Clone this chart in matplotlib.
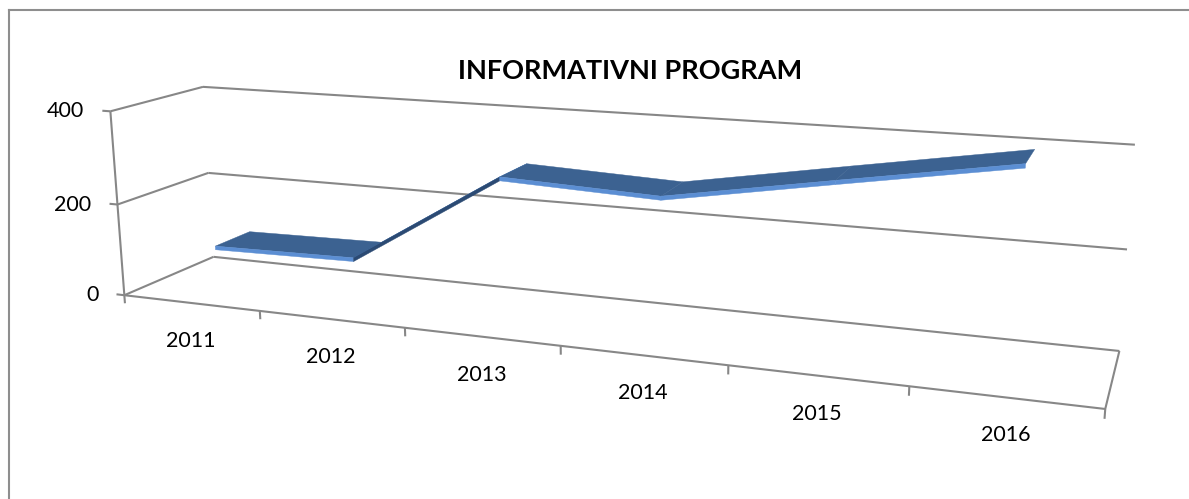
import numpy as np
import matplotlib
matplotlib.use("Agg")
import matplotlib.pyplot as plt
from mpl_toolkits.mplot3d import proj3d
from mpl_toolkits.mplot3d.art3d import Poly3DCollection

# ---- data ----
years = ['2011', '2012', '2013', '2014', '2015', '2016']
values = [95, 100, 297, 284, 340, 395]
value_ticks = [0, 200, 400]
title = 'INFORMATIVNI PROGRAM'

# ---- figure / 3D view (Excel-like 3D line chart) ----
W, H = 1189, 499
fig = plt.figure(figsize=(W / 100, H / 100), dpi=100)
ax = fig.add_axes([0.05899, -0.49721, 0.85412, 2.03516], projection='3d', computed_zorder=False)
ax.set_xlim(0, len(years)); ax.set_ylim(0, 1); ax.set_zlim(0, value_ticks[-1])
ax.view_init(elev=13.9415, azim=-68.8498, roll=0.2969)
ax.set_proj_type('persp', focal_length=0.30241)
ax.set_box_aspect((1, 0.16732, 0.19781))
ax.set_axis_off()

gc = '#878787'
lw = 1.5
n = len(years)
zmax = value_ticks[-1]


def seg(a, b):
    ln, = ax.plot([a[0], b[0]], [a[1], b[1]], [a[2], b[2]], color=gc, lw=lw, zorder=1,
                  solid_capstyle='butt')
    ln.set_clip_on(False)


# floor outline
seg((0, 0, 0), (n, 0, 0)); seg((n, 0, 0), (n, 1, 0))
seg((0, 1, 0), (n, 1, 0)); seg((0, 0, 0), (0, 1, 0))
# back wall and side wall gridlines
for z in value_ticks[1:]:
    seg((0, 1, z), (n, 1, z))
    seg((0, 0, z), (0, 1, z))
# value axis and ticks
seg((0, 0, 0), (0, 0, zmax))
for z in value_ticks:
    seg((0, 0, z), (-0.06, 0, z))
# category ticks
for i in range(n + 1):
    seg((i, 0, 0), (i, 0, -18))

# ---- ribbon ----
dark, light, shadow = '#3C6291', '#5B8ED3', '#2B4A73'
xc = np.arange(n) + 0.5
y0, y1, th = 0.3, 0.7, 8
polys, cols = [], []
for i in range(n - 1):
    a, b = values[i], values[i + 1]
    steep = (b - a) > 100
    polys.append([(xc[i], y0, a + th / 2), (xc[i + 1], y0, b + th / 2),
                  (xc[i + 1], y1, b + th / 2), (xc[i], y1, a + th / 2)])
    cols.append(light if steep else dark)
    polys.append([(xc[i], y0, a + th / 2), (xc[i + 1], y0, b + th / 2),
                  (xc[i + 1], y0, b - th / 2), (xc[i], y0, a - th / 2)])
    cols.append(shadow if steep else light)
pc = Poly3DCollection(polys, facecolors=cols, edgecolors=cols, linewidths=0.3, zorder=5)
pc.set_clip_on(False)
ax.add_collection3d(pc)

# ---- tick labels (anchored to projected axis positions) ----
M = ax.get_proj()
lx, ly, _ = proj3d.proj_transform(xc, np.zeros_like(xc), np.zeros_like(xc), M)
for i, s in enumerate(years):
    ax.annotate(s, (lx[i], ly[i]), xytext=(0, -38), textcoords='offset pixels',
                ha='center', va='center', fontsize=15.5, family='Lato')
vt = np.array(value_ticks, float)
vx, vy, _ = proj3d.proj_transform(np.zeros_like(vt), np.zeros_like(vt), vt, M)
for i, v in enumerate(value_ticks):
    ax.annotate(str(v), (vx[i], vy[i]), xytext=(-26, 0), textcoords='offset pixels',
                ha='right', va='center', fontsize=15.5, family='Lato')

# ---- title and chart border ----
fig.text(630 / W, 1 - 71 / H, title, ha='center', va='center', fontsize=19.5,
         fontweight='bold', family='Lato')
fig.add_artist(plt.Line2D([8.5 / W, 1], [1 - 10 / H, 1 - 10 / H], transform=fig.transFigure,
                          color='#8E8E8E', lw=1.5))
fig.add_artist(plt.Line2D([8.5 / W, 8.5 / W], [1 - 10 / H, 0], transform=fig.transFigure,
                          color='#8E8E8E', lw=1.5))

fig.savefig('out.png', dpi=100)
